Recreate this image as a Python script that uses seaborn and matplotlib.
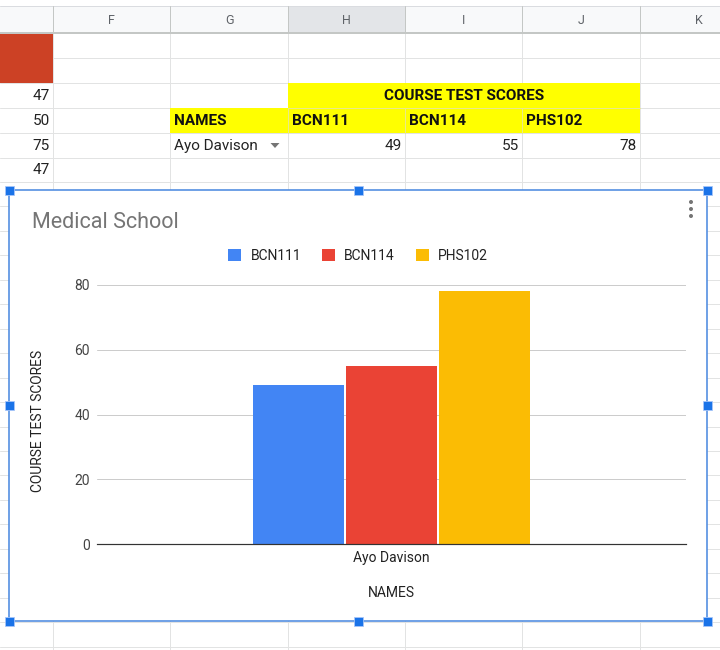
import numpy as np
import pandas as pd
import matplotlib
matplotlib.use("Agg")
import matplotlib.pyplot as plt
from matplotlib.patches import Rectangle, Circle, Polygon
import seaborn as sns

# ---------------- data ----------------
names = ["Ayo Davison"]
courses = ["BCN111", "BCN114", "PHS102"]
scores = [49, 55, 78]
course_colors = ["#4285f4", "#ea4335", "#fbbc04"]
col_letters = ["F", "G", "H", "I", "J", "K"]
col_e_values = ["47", "50", "75", "47"]
table_header = "COURSE TEST SCORES"
table_cols = ["NAMES"] + courses
y_ticks = [0, 20, 40, 60, 80]

chart_title = "Medical School"
x_label = "NAMES"
y_label = "COURSE TEST SCORES"

df = pd.DataFrame({"name": names * len(courses), "course": courses, "score": scores})

sns.set_theme(style="white")
plt.rcParams["font.family"] = ["Roboto", "DejaVu Sans"]

W, H = 720, 650
fig = plt.figure(figsize=(7.2, 6.5), dpi=100)
bg = fig.add_axes([0, 0, 1, 1])
bg.set_xlim(0, W)
bg.set_ylim(H, 0)
bg.axis("off")

PX = 72 / 100  # points per pixel
SHEET_FS = 11

# ---------------- spreadsheet background ----------------
col_x = [-64, 53, 170, 288, 405, 522, 640, 757]
row_y = [33, 58, 83, 108, 133, 158, 182] + [182 + 24.45 * k for k in range(1, 20)]

# header row
bg.add_patch(Rectangle((0, 6), W, 27, facecolor="#f8f9fa", edgecolor="none", zorder=1))
bg.add_patch(Rectangle((288, 6), 117, 27, facecolor="#e3e5e8", edgecolor="none", zorder=1))
bg.plot([0, W], [6, 6], color="#dadce0", lw=1 * PX, zorder=2)
for x in col_x[1:-1]:
    bg.plot([x, x], [6, 33], color="#c4c7c5", lw=1 * PX, zorder=2)
for i, letter in enumerate(col_letters):
    cx = (col_x[i + 1] + col_x[i + 2]) / 2
    bg.text(cx, 20, letter, ha="center", va="center", fontsize=9, color="#5f6368", zorder=3)

# grid lines
for y in row_y[1:]:
    bg.plot([0, W], [y, y], color="#e2e3e3", lw=1 * PX, zorder=1)
for x in col_x[1:-1]:
    bg.plot([x, x], [33, H], color="#e2e3e3", lw=1 * PX, zorder=1)
bg.plot([0, W], [33, 33], color="#c4c7c5", lw=2 * PX, zorder=2)

# red cell (column E, two rows)
bg.add_patch(Rectangle((0, 33.5), 53, 49.5, facecolor="#cc4125", edgecolor="none", zorder=1.5))

# yellow cells
bg.add_patch(Rectangle((288, 83), 352, 25, facecolor="#ffff00", edgecolor="none", zorder=1.5))
bg.add_patch(Rectangle((170, 108), 470, 25, facecolor="#ffff00", edgecolor="none", zorder=1.5))
for x in [288, 405, 522]:
    bg.plot([x, x], [108, 133], color="#e9e98a", lw=1 * PX, zorder=1.6)
bg.plot([288, 640], [108, 108], color="#e9e98a", lw=1 * PX, zorder=1.6)


def row_center(r):
    return (row_y[r] + row_y[r + 1]) / 2 + 0.5


# column E values
for k, v in enumerate(col_e_values):
    bg.text(50, row_center(2 + k), v, ha="right", va="center", fontsize=SHEET_FS, color="#222222", zorder=3)

# table
bg.text((288 + 640) / 2, row_center(2), table_header, ha="center", va="center",
        fontsize=SHEET_FS, fontweight="bold", color="#111111", zorder=3)
for i, label in enumerate(table_cols):
    bg.text(col_x[2 + i] + 4, row_center(3), label, ha="left", va="center",
            fontsize=SHEET_FS, fontweight="bold", color="#111111", zorder=3)
bg.text(col_x[2] + 4, row_center(4), names[0], ha="left", va="center",
        fontsize=SHEET_FS, color="#222222", zorder=3)
bg.add_patch(Polygon([[270.5, 143], [279.5, 143], [275, 148]], closed=True,
                     facecolor="#757575", edgecolor="none", zorder=3))
for i, s in enumerate(scores):
    bg.text(col_x[4 + i] - 3, row_center(4), str(s), ha="right", va="center",
            fontsize=SHEET_FS, color="#222222", zorder=3)

# ---------------- chart box ----------------
cx0, cy0, cx1, cy1 = 9, 190, 707, 621
bg.add_patch(Rectangle((cx0, cy0), cx1 - cx0, cy1 - cy0, facecolor="white",
                       edgecolor="#4f8be0", lw=1.6 * PX, zorder=5))
for (hx, hy) in [(cx0, cy0), ((cx0 + cx1) / 2, cy0), (cx1, cy0),
                 (cx0, (cy0 + cy1) / 2), (cx1, (cy0 + cy1) / 2),
                 (cx0, cy1), ((cx0 + cx1) / 2, cy1), (cx1, cy1)]:
    bg.add_patch(Rectangle((hx - 4.5, hy - 4.5), 9, 9, facecolor="#1a73e8",
                           edgecolor="#a8c7fa", lw=0.8 * PX, zorder=7))
for dy in [202, 209, 216]:
    bg.add_patch(Circle((691, dy), 2.0, facecolor="#757575", edgecolor="none", zorder=6))

bg.text(32, 222, chart_title, ha="left", va="center", fontsize=15.5, color="#757575", zorder=6)

# ---------------- bar chart ----------------
ax = fig.add_axes([97 / W, 1 - 544 / H, 589 / W, 259 / H])
ax.set_zorder(10)
ax.patch.set_alpha(0)

sns.barplot(data=df, x="name", y="score", hue="course", hue_order=courses,
            palette=course_colors, saturation=1, width=0.8, gap=0.03,
            ax=ax, edgecolor="none", linewidth=0)

ax.set_xlim(-0.8445, 0.8445)
ax.set_ylim(0, 80)
ax.set_yticks(y_ticks)
ax.set_yticklabels([str(t) for t in y_ticks])
ax.grid(axis="y", color="#cccccc", lw=1 * PX)
ax.grid(axis="x", visible=False)
ax.set_axisbelow(True)
for s in ["top", "right", "left"]:
    ax.spines[s].set_visible(False)
ax.spines["bottom"].set_color("#333333")
ax.spines["bottom"].set_linewidth(1.2 * PX)
ax.tick_params(axis="both", length=0, labelsize=10, labelcolor="#444444", pad=5)
ax.tick_params(axis="x", labelcolor="#222222", pad=5)

ax.set_xlabel(x_label, fontsize=10, color="#222222")
ax.set_ylabel(y_label, fontsize=10, color="#222222")
ax.xaxis.set_label_coords(0.5, -(593 - 544) / 259)
ax.xaxis.label.set_va("center")
ax.yaxis.set_label_coords((38.5 - 97) / 589, (544 - 421) / 259)
ax.yaxis.label.set_va("center")
ax.yaxis.label.set_ha("center")

sns.move_legend(ax, "center", bbox_to_anchor=(358 / W, 1 - 255.5 / H),
                bbox_transform=fig.transFigure, ncol=3, frameon=False, title=None,
                fontsize=10, handlelength=0.95, handleheight=0.95,
                handletextpad=0.65, columnspacing=1.5)
for t in ax.get_legend().get_texts():
    t.set_color("#222222")

fig.savefig("out.png", dpi=100)
